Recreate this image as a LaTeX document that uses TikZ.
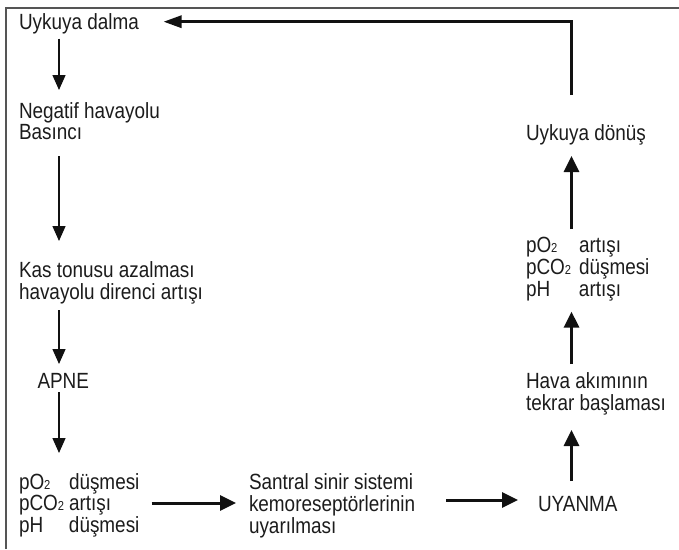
\documentclass[tikz,border=0pt]{standalone}
\usepackage{fontspec}
\setmainfont[FakeStretch=0.86]{Liberation Sans}
\usetikzlibrary{arrows.meta,calc}
\definecolor{tc}{HTML}{1C1C1C}
\definecolor{ac}{HTML}{111111}
\definecolor{fc}{HTML}{555555}
\newcommand\stwo{{\fontsize{13}{13}\selectfont 2}}
\newcommand\lc[1]{\makebox[50pt][l]{#1}}
\newcommand\rc[1]{\makebox[53pt][l]{#1}}
\begin{document}
\begin{tikzpicture}[x=1pt,y=1pt,
  txt/.style={anchor=base west,inner sep=0pt,outer sep=0pt,text=tc,font=\fontsize{22}{21}\selectfont},
  thinarr/.style={draw=ac,line width=1.4pt,-{Triangle[length=15pt,width=13pt]}},
  thickarr/.style={draw=ac,line width=3pt,-{Triangle[length=16pt,width=15pt]}},
  toparr/.style={draw=ac,line width=3pt,-{Triangle[length=18pt,width=12pt]}}]
\useasboundingbox (0,0) rectangle (679,-549);
\draw[fc,line width=1.5pt] (6,-549) -- (6,-8) -- (679,-8);
\coordinate (lx) at (59,0);
\coordinate (rx) at (571.5,0);
% nodes
\node[txt] (dalma) at (19,-29.5) {Uykuya dalma};
\node[txt] (neg) at (19,-118) {\begin{tabular}[t]{@{}l@{}}Negatif havayolu\\Basıncı\end{tabular}};
\node[txt] (kas) at (19,-277.5) {\begin{tabular}[t]{@{}l@{}}Kas tonusu azalması\\havayolu direnci artışı\end{tabular}};
\node[txt] (apne) at (37.5,-388.5) {APNE};
\node[txt] (lbot) at (19,-489) {\begin{tabular}[t]{@{}l@{}l@{}}\lc{pO\stwo}&düşmesi\\\lc{pCO\stwo}&artışı\\\lc{pH}&düşmesi\end{tabular}};
\node[txt] (santral) at (249,-489) {\begin{tabular}[t]{@{}l@{}}Santral sinir sistemi\\kemoreseptörlerinin\\uyarılması\end{tabular}};
\node[txt] (uyanma) at (538,-511) {UYANMA};
\node[txt] (hava) at (526,-388.7) {\begin{tabular}[t]{@{}l@{}}Hava akımının\\tekrar başlaması\end{tabular}};
\node[txt] (rpo) at (526,-252.5) {\begin{tabular}[t]{@{}l@{}l@{}}\rc{pO\stwo}&artışı\\\rc{pCO\stwo}&düşmesi\\\rc{pH}&artışı\end{tabular}};
\node[txt] (donus) at (526,-140.5) {Uykuya dönüş};
% left column arrows
\draw[thinarr] ($(dalma.base -| lx)+(0,-9)$) -- ($(neg.base -| lx)+(0,28)$);
\draw[thinarr] ($(neg.base -| lx)+(0,-38)$) -- ($(kas.base -| lx)+(0,36.5)$);
\draw[thinarr] ($(kas.base -| lx)+(0,-32.5)$) -- ($(apne.base -| lx)+(0,24.5)$);
\draw[thinarr] ($(apne.base -| lx)+(0,-3.5)$) -- ($(lbot.base -| lx)+(0,36)$);
% bottom horizontal arrows
\draw[thickarr] ($(lbot.base west)+(132.6,-14)$) -- ($(santral.base west)+(-13,-14)$);
\draw[thickarr] ($(santral.base west)+(197,-11)$) -- ($(uyanma.base west)+(-20,11)$);
% right column arrows
\draw[thickarr] ($(uyanma.base -| rx)+(0,30)$) -- ($(hava.base -| rx)+(0,-41.3)$);
\draw[thickarr] ($(hava.base -| rx)+(0,24.7)$) -- ($(rpo.base -| rx)+(0,-59.1)$);
\draw[thickarr] ($(rpo.base -| rx)+(0,23.5)$) -- ($(donus.base -| rx)+(0,-15.5)$);
% top return connector
\draw[toparr] ($(donus.base -| rx)+(0,45.5)$) |- ($(dalma.base west)+(144.5,7.8)$);
\end{tikzpicture}
\end{document}
